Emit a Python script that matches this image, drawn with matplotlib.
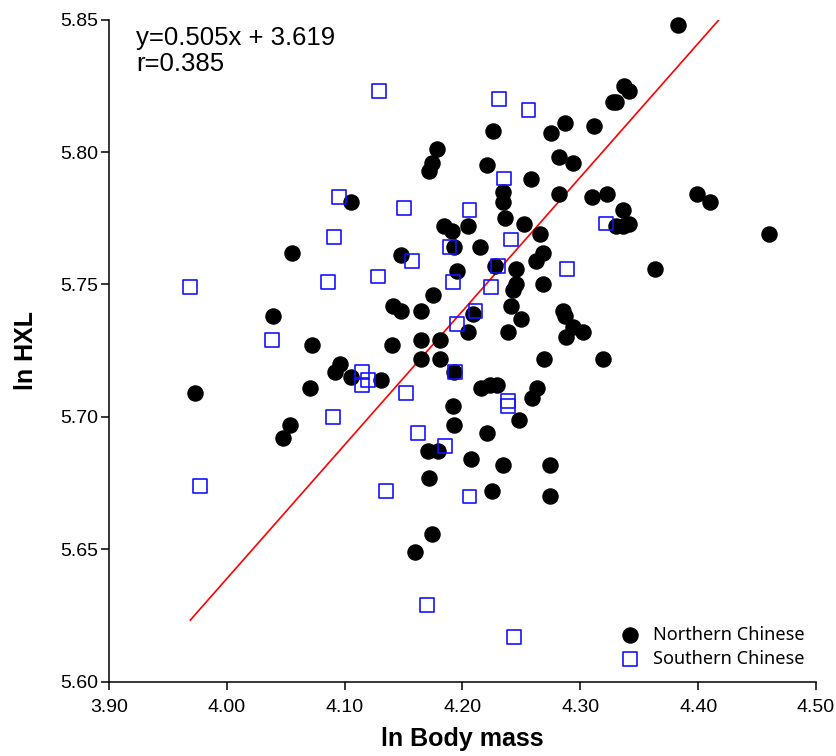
import matplotlib
matplotlib.use("Agg")
import matplotlib.pyplot as plt
import numpy as np

# ln body mass / ln HXL for the two groups
north_x = [4.383, 4.337, 4.341, 4.328, 4.330, 4.287, 4.312, 4.275, 4.226, 4.178,
           4.282, 4.294, 4.221, 4.174, 4.172, 4.258, 4.234, 4.234, 4.282, 4.310,
           4.323, 4.399, 4.410, 4.105, 4.336, 4.341, 4.330, 4.336, 4.236, 4.252,
           4.205, 4.184, 4.191, 4.460, 4.266, 4.193, 4.215, 4.268, 4.055, 4.148,
           4.262, 4.228, 4.245, 4.363, 4.195, 4.245, 4.243, 4.268, 4.175, 4.141,
           4.148, 4.165, 4.241, 4.285, 4.287, 4.250, 4.209, 4.039, 4.205, 4.239,
           4.294, 4.302, 4.288, 4.181, 4.072, 4.140, 4.165, 4.165, 4.181, 4.269,
           4.319, 4.096, 4.092, 4.105, 4.131, 4.193, 3.973, 4.071, 4.216, 4.223,
           4.229, 4.263, 4.259, 4.192, 4.248, 4.193, 4.054, 4.048, 4.221, 4.171,
           4.179, 4.207, 4.234, 4.274, 4.172, 4.225, 4.274, 4.174, 4.160]
north_y = [5.848, 5.825, 5.823, 5.819, 5.819, 5.811, 5.810, 5.807, 5.808, 5.801,
           5.798, 5.796, 5.795, 5.796, 5.793, 5.790, 5.785, 5.781, 5.784, 5.783,
           5.784, 5.784, 5.781, 5.781, 5.778, 5.773, 5.772, 5.772, 5.775, 5.773,
           5.772, 5.772, 5.770, 5.769, 5.769, 5.764, 5.764, 5.762, 5.762, 5.761,
           5.759, 5.757, 5.756, 5.756, 5.755, 5.750, 5.748, 5.750, 5.746, 5.742,
           5.740, 5.740, 5.742, 5.740, 5.738, 5.737, 5.739, 5.738, 5.732, 5.732,
           5.734, 5.732, 5.730, 5.729, 5.727, 5.727, 5.729, 5.722, 5.722, 5.722,
           5.722, 5.720, 5.717, 5.715, 5.714, 5.717, 5.709, 5.711, 5.711, 5.712,
           5.712, 5.711, 5.707, 5.704, 5.699, 5.697, 5.697, 5.692, 5.694, 5.687,
           5.687, 5.684, 5.682, 5.682, 5.677, 5.672, 5.670, 5.656, 5.649]

south_x = [4.129, 4.231, 4.256, 4.095, 4.235, 4.150, 4.091, 4.206, 4.322, 4.157,
           4.189, 4.241, 3.969, 4.086, 4.128, 4.192, 4.230, 4.289, 4.224, 4.211,
           4.195, 4.038, 4.115, 4.120, 4.115, 4.194, 4.152, 4.090, 4.239, 4.239,
           4.162, 4.185, 3.977, 4.135, 4.206, 4.170, 4.244]
south_y = [5.823, 5.820, 5.816, 5.783, 5.790, 5.779, 5.768, 5.778, 5.773, 5.759,
           5.764, 5.767, 5.749, 5.751, 5.753, 5.751, 5.757, 5.756, 5.749, 5.740,
           5.735, 5.729, 5.717, 5.714, 5.712, 5.717, 5.709, 5.700, 5.706, 5.704,
           5.694, 5.689, 5.674, 5.672, 5.670, 5.629, 5.617]

slope, intercept, r = 0.505, 3.619, 0.385

x_ticks = [3.90, 4.00, 4.10, 4.20, 4.30, 4.40, 4.50]
y_ticks = [5.60, 5.65, 5.70, 5.75, 5.80, 5.85]

plt.rcParams["font.family"] = ["Liberation Sans", "DejaVu Sans"]

fig = plt.figure(figsize=(8.37, 7.56), dpi=100)
ax = fig.add_axes([0.1302, 0.0979, 0.8447, 0.8763])

ax.scatter(north_x, north_y, s=118, marker="o", color="black",
           label="Northern Chinese", zorder=3, clip_on=False)
ax.scatter(south_x, south_y, s=100, marker="s", facecolors="none",
           edgecolors="#1414ff", linewidths=1.2, label="Southern Chinese",
           zorder=4, clip_on=False)

# fitted line over the data range, clipped by the axes
all_x = np.array(north_x + south_x)
fx = np.array([all_x.min(), all_x.max()])
ax.plot(fx, slope * fx + intercept, color="red", lw=1.2, zorder=2)

ax.set_xlim(3.90, 4.50)
ax.set_ylim(5.60, 5.85)
ax.set_xticks(x_ticks)
ax.set_yticks(y_ticks)
ax.set_xticklabels([f"{v:.2f}" for v in x_ticks])
ax.set_yticklabels([f"{v:.2f}" for v in y_ticks])
ax.tick_params(direction="out", length=6, width=1.1, labelsize=14)
ax.tick_params(axis="x", pad=6)
ax.tick_params(axis="y", pad=2)
for side in ("top", "right"):
    ax.spines[side].set_visible(False)
for side in ("left", "bottom"):
    ax.spines[side].set_linewidth(1.1)

ax.set_xlabel("ln Body mass", fontsize=18, fontweight="bold", labelpad=8)
ax.set_ylabel("ln HXL", fontsize=18, fontweight="bold", labelpad=16)

ax.text(0.038, 0.99, f"y={slope}x + {intercept}\nr={r}", transform=ax.transAxes,
        ha="left", va="top", fontsize=18.5, linespacing=1.1)

ax.legend(loc="lower right", bbox_to_anchor=(1.004, 0.0), frameon=False,
          prop={"family": "Noto Sans", "size": 13}, handletextpad=0.28,
          labelspacing=0.3, borderpad=0.3, markerscale=1.0)

fig.savefig("out.png", dpi=100)
